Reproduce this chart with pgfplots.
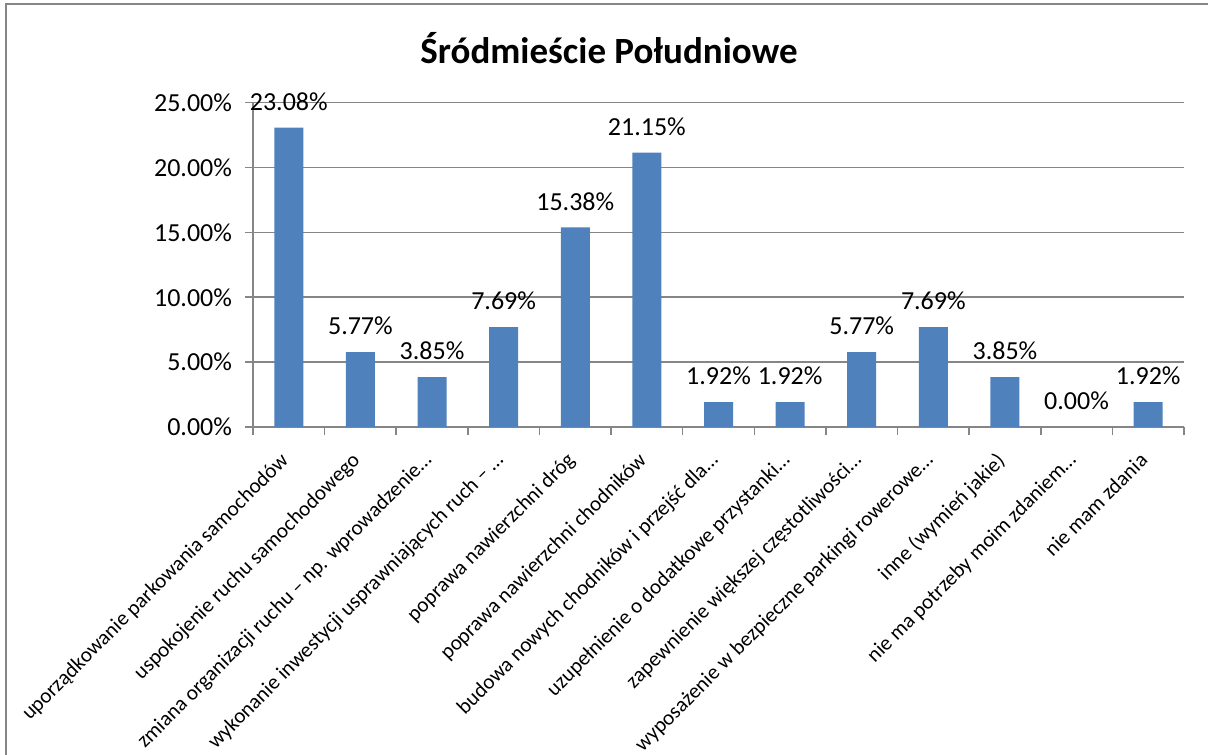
\documentclass[border=0pt]{standalone}
\usepackage{pgfplots}
\pgfplotsset{compat=1.18}
\usepackage{fontspec}
\setmainfont{Carlito}
\definecolor{barblue}{HTML}{4F81BD}
\definecolor{gridgray}{HTML}{868686}
\begin{document}
\begin{tikzpicture}
\useasboundingbox (0,0) rectangle (604bp,377.5bp);
\draw[gridgray, line width=1bp] (3bp,0) -- (3bp,375.5bp) -- (604bp,375.5bp);
\node[font=\fontsize{18.5bp}{22bp}\selectfont\bfseries] at (304.5bp,353.5bp) {Śródmieście Południowe};
\begin{axis}[
  at={(126.5bp,164bp)}, anchor=south west,
  scale only axis, width=465.5bp, height=162.15bp,
  xmin=-0.5, xmax=12.5, ymin=0, ymax=25,
  axis x line*=bottom, axis y line*=left,
  axis line style={gridgray, line width=0.8bp, -},
  tick align=outside,
  ytick={0,5,10,15,20,25},
  yticklabels={0.00\%,5.00\%,10.00\%,15.00\%,20.00\%,25.00\%},
  yticklabel style={font=\fontsize{13bp}{15bp}\selectfont, xshift=-3bp},
  major tick length=4bp, minor tick length=4bp,
  ymajorgrids, grid style={gridgray, line width=0.8bp},
  ytick style={gridgray, line width=0.8bp},
  xtick={0,...,12},
  major x tick style={draw=none},
  minor xtick={-0.5,0.5,...,12.5},
  minor x tick style={gridgray, line width=0.8bp},
  xticklabels={
    uporządkowanie parkowania samochodów,
    uspokojenie ruchu samochodowego,
    zmiana organizacji ruchu – np. wprowadzenie…,
    wykonanie inwestycji usprawniających ruch – …,
    poprawa nawierzchni dróg,
    poprawa nawierzchni chodników,
    budowa nowych chodników i przejść dla…,
    uzupełnienie o dodatkowe przystanki…,
    zapewnienie większej częstotliwości…,
    wyposażenie w bezpieczne parkingi rowerowe…,
    inne (wymień jakie),
    nie ma potrzeby moim zdaniem…,
    nie mam zdania},
  xticklabel style={font=\fontsize{10.6bp}{12bp}\selectfont, rotate=45, anchor=north east, inner sep=1bp, yshift=-1bp, xshift=-8bp},
  ybar, bar width=14.5bp,
  nodes near coords={\pgfmathprintnumber[fixed,fixed zerofill,precision=2]{\pgfplotspointmeta}\%},
  nodes near coords style={font=\fontsize{13bp}{15bp}\selectfont, yshift=5bp},
  /pgf/number format/assume math mode=true,
  clip=false,
]
\addplot[fill=barblue, draw=none] coordinates {
(0,23.08) (1,5.77) (2,3.85) (3,7.69) (4,15.38) (5,21.15) (6,1.92)
(7,1.92) (8,5.77) (9,7.69) (10,3.85) (11,0.00) (12,1.92)};
\end{axis}
\end{tikzpicture}
\end{document}
